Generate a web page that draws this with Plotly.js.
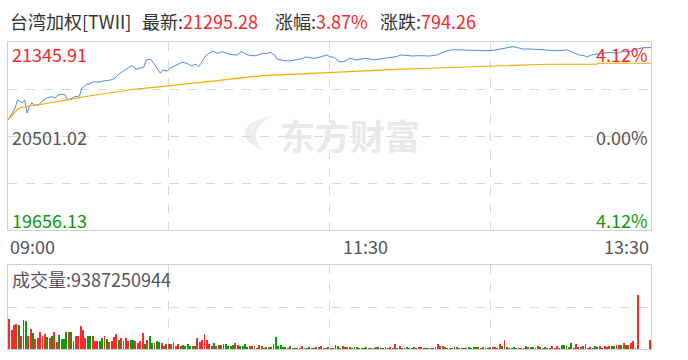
<!DOCTYPE html>
<html><head><meta charset="utf-8">
<script src="https://cdn.plot.ly/plotly-3.0.1.min.js"></script>
<style>html,body{margin:0;padding:0;background:#fff;}#chart{width:688px;height:360px;}</style>
</head><body><div id="chart"></div>
<script>
// ---- data ----
const indexName = '台湾加权[TWII]';
const lastPrice = '21295.28';
const changePct = '3.87%';
const changeAmt = '794.26';
const totalVolume = '9387250944';
const yMax = 21345.91, prevClose = 20501.02, yMin = 19656.13;
const pctLabels = ['4.12%', '0.00%', '4.12%'];
const timeLabels = ['09:00', '11:30', '13:30'];
const timeLabelMin = [0, 150, 270];

const priceMin = [0,2,3,4,6,7,8,9,10,11,13,14,16,18,20,21,23,24,25,27,28,30,31,33,34,36,38,40,43,45,
  46,48,50,52,54,55,57,58,60,62,64,65,67,68,70,73,75,77,79,80,81,83,86,88,90,93,96,98,100,102,
  104,107,109,110,112,113,116,118,121,123,125,128,130,132,134,135,137,139,141,143,144,146,148,150,152,154,156,158,162,163,
  165,167,170,172,174,177,180,182,184,187,190,193,197,200,204,207,209,212,214,216,219,223,226,230,233,235,237,240,242,243,
  245,247,250,253,256,258,261,264,267,270];
const priceVal = [20645,20719,20753,20825,20798,20825,20708,20764,20798,20780,20780,20809,20840,20854,20845,20870,20876,20870,20825,20840,20854,20860,20930,20968,20966,20989,20984,20995,21004,21020,
  21049,21079,21110,21133,21100,21110,21118,21184,21190,21124,21065,21094,21085,21110,21133,21163,21155,21133,21146,21124,21155,21223,21265,21244,21259,21235,21229,21259,21235,21223,
  21223,21244,21244,21253,21229,21193,21178,21175,21187,21193,21211,21199,21205,21214,21229,21214,21208,21169,21169,21193,21199,21184,21193,21199,21193,21184,21193,21199,21205,21214,
  21229,21223,21220,21223,21220,21220,21229,21244,21265,21277,21274,21271,21268,21268,21271,21283,21289,21304,21295,21283,21283,21274,21274,21268,21274,21274,21253,21229,21223,21211,
  21229,21238,21244,21253,21244,21259,21259,21283,21295,21295.28];

const avgMin = [0,3,5,8,12,18,25,32,39,46,53,60,67,74,81,88,93,107,121,135,149,163,177,190,204,212,226,247,248,270];
const avgVal = [20645,20719,20755,20764,20780,20800,20825,20854,20876,20899,20921,20935,20950,20966,20984,20998,21013,21043,21058,21074,21088,21100,21110,21118,21130,21137,21146,21146,21155,21155];

// volume per minute (millions of shares), minutes 1..270
const volume = [
  210,133,168,175,168,91,203,196,91,140, 112,70,77,119,91,105,84,77,91,119, 49,98,70,70,119,119,119,56,91,91, 161,133,77,91,91,91,
  56,56,56,77,91,70,49,56,84,105, 63,77,56,77,56,63,63,56,42,56, 112,35,63,91,42,42,56,49,42,21, 35,35,35,49,21,35,21,
  28,21,35,21,
  21,21,77,49,63,105,63,35,21,42,21,28,
  28,35,35,
  21,21,28,42,28,21,21,35,14,21, 21,21,7,28,21,7,14,14,14,35, 84,21,28,14,14,7,21,7,7,
  7,7,21,7,7,14,7,7,14,14,21,7,
  7,14,7,7,28,21,7,21,14,14,14,7,14,14,7,7,
  7,14,7,7,
  7,14,14,7,7,14,7,14,7,35,7,21,7,7,14,7,7,14,7,
  14,14,7,7,
  7,7,7,14,35,21,21,14,7,7,7,14,
  14,7,
  7,7,7,14,7,14,14,14,7,14,7,
  7,14,14,14,7,35,21,63,14,7,7,14,7,7,
  7,7,21,14,14,14,7,21,14,7,14,7,
  7,21,7,21,7,28,28,21,14,42, 7,35,14,14,21,35,7,14,7,21, 14,21,7,21,14,21,21,21,28,28, 28,42,28,28,42,56,7,378,
  0,0,0,0,63
];
// r = up minute, g = down minute
const volDir =
  "rrrrgrggrr" + "grrrrrgrgr" + "rggggrggrr" + "rrrggr" +
  "rrggrgrrrr" + "grrrrggrrr" + "rgrggrggrr" + "grrrrrr" +
  "gggg" + "rgrrrrrrrgrg" + "rgg" +
  "gggrrggggr" + "rgrrrggrgg" + "gggggrgrg" +
  "rrrgggrrrgrr" + "rgrrggrrgrrgggrr" + "ggrg" + "rgrggrrrgrgrggggrgg" + "rrgg" + "rgrrrrgrggrr" +
  "gg" + "rrggggrgrgr" + "rgrrrrgrgrggrg" + "rrgrggrrgrgr" +
  "grrrrgggrg" + "rrrgrrrrrg" + "grrrrrggrr" + "grgrrrrr" +
  "rrrrr";

// ---- drawing ----
const RED = '#f52a2a', GREEN = '#0a9a0a', TXT = '#333333', GRAY = '#555555';
const L = 8, R = 651, T = 42, B = 349;
const px = p => (p - L) / (R - L);
const py = p => (B - p) / (B - T);
const FONT = '"Microsoft YaHei", "Noto Sans CJK SC", sans-serif';

const volX = volume.map((v, i) => i + 1);
const volColors = volume.map((v, i) => volDir[i] === 'g' ? GREEN : RED);

const traces = [
  {x: priceMin, y: priceVal, type: 'scatter', mode: 'lines', line: {color: '#5089e4', width: 1}, xaxis: 'x', yaxis: 'y', hoverinfo: 'skip'},
  {x: avgMin, y: avgVal, type: 'scatter', mode: 'lines', line: {color: '#f7aa00', width: 1.2}, xaxis: 'x', yaxis: 'y', hoverinfo: 'skip'},
  {x: volX, y: volume, type: 'bar', marker: {color: volColors, line: {width: 0}}, width: 0.8, offset: -0.9, xaxis: 'x2', yaxis: 'y2', hoverinfo: 'skip'}
];

const gridCommon = {showgrid: true, gridcolor: '#d8d8d8', griddash: 'dash', gridwidth: 1, showticklabels: false, ticks: '',
  showline: true, mirror: true, linecolor: '#d0d0d0', linewidth: 1, zeroline: false, fixedrange: true};
const q = (yMax - yMin) / 4;

const ann = [];
function addText(text, xp, yp, color, size, anchor) {
  ann.push({xref: 'paper', yref: 'paper', x: px(xp), y: py(yp), text: text, showarrow: false,
    xanchor: anchor || 'left', yanchor: 'middle', font: {family: FONT, size: size, color: color}});
}
// watermark (drawn first so it sits below other texts)
addText('<b>东方财富</b>', 350, 134, '#e9e9e9', 35, 'center');

addText(indexName, 8, 21, TXT, 18);
addText('最新:<span style="color:' + RED + '">' + lastPrice + '</span>', 140, 21, TXT, 18);
addText('涨幅:<span style="color:' + RED + '">' + changePct + '</span>', 273, 21, TXT, 18);
addText('涨跌:<span style="color:' + RED + '">' + changeAmt + '</span>', 378, 21, TXT, 18);

addText(yMax.toFixed(2), 10, 54, RED, 18);
addText(prevClose.toFixed(2), 10, 137, GRAY, 18);
addText(yMin.toFixed(2), 10, 220, GREEN, 18);
addText(pctLabels[0], 650, 54, RED, 18, 'right');
addText(pctLabels[1], 650, 137, GRAY, 18, 'right');
addText(pctLabels[2], 650, 220, GREEN, 18, 'right');

ann.push({xref: 'x', yref: 'paper', x: timeLabelMin[0], y: py(246), text: timeLabels[0], showarrow: false, xanchor: 'left', yanchor: 'middle', font: {family: FONT, size: 18, color: GRAY}});
ann.push({xref: 'x', yref: 'paper', x: timeLabelMin[1], y: py(246), text: timeLabels[1], showarrow: false, xanchor: 'center', yanchor: 'middle', font: {family: FONT, size: 18, color: GRAY}});
ann.push({xref: 'x', yref: 'paper', x: timeLabelMin[2], y: py(246), text: timeLabels[2], showarrow: false, xanchor: 'right', yanchor: 'middle', font: {family: FONT, size: 18, color: GRAY}});

addText('成交量:' + totalVolume, 10, 279, GRAY, 18);

// watermark logo (decorative swoosh)
const logoPath = 'M 262 150 C 238 140, 238 122, 272 116 C 256 124, 250 136, 262 150 Z';
const logoPath2 = 'M 252 134 C 248 126, 256 120, 266 118 C 258 122, 254 128, 252 134 Z';

const layout = {
  width: 688, height: 360,
  margin: {l: L, r: 688 - R, t: T, b: 360 - B, pad: 0},
  paper_bgcolor: '#ffffff', plot_bgcolor: '#ffffff',
  showlegend: false, bargap: 0,
  xaxis: Object.assign({}, gridCommon, {domain: [0, 1], range: [0, 270], anchor: 'y', tickvals: [67.5, 135, 202.5]}),
  yaxis: Object.assign({}, gridCommon, {domain: [py(230), 1], range: [yMin, yMax], anchor: 'x', tickvals: [yMin + q, yMin + 2 * q, yMin + 3 * q]}),
  xaxis2: Object.assign({}, gridCommon, {domain: [0, 1], range: [0, 270], anchor: 'y2', tickvals: [67.5, 135, 202.5]}),
  yaxis2: Object.assign({}, gridCommon, {domain: [0, py(265)], range: [0, 588], anchor: 'x2', tickvals: [294]}),
  annotations: ann,
  shapes: []
};
Plotly.newPlot('chart', traces, layout, {displayModeBar: false, staticPlot: true}).then(gd => {
  // convert logo pixel path to paper coords via a transformation of the svg group is complex; draw as paper shape
  const toPaper = path => path.replace(/(-?\d+(?:\.\d+)?) (-?\d+(?:\.\d+)?)/g, (m, a, b) => px(+a).toFixed(4) + ' ' + py(+b).toFixed(4));
  Plotly.relayout(gd, {shapes: [
    {type: 'path', xref: 'paper', yref: 'paper', path: toPaper(logoPath), fillcolor: '#ececec', line: {width: 0}, layer: 'below'},
    {type: 'path', xref: 'paper', yref: 'paper', path: toPaper(logoPath2), fillcolor: '#f2f2f2', line: {width: 0}, layer: 'below'}
  ]});
});
</script>
</body></html>
